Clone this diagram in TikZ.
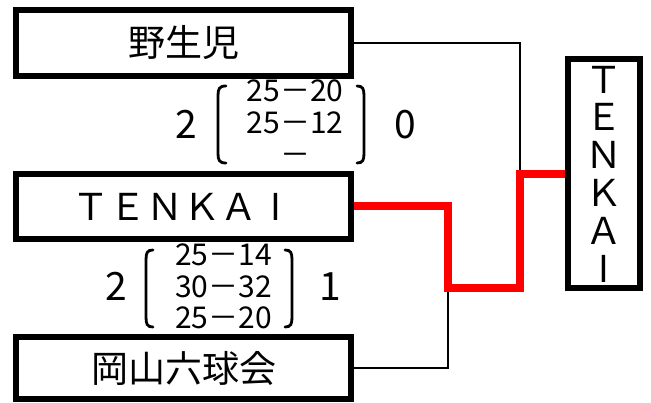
\documentclass[tikz,border=0pt]{standalone}
\usepackage{fontspec}
\setmainfont{Noto Sans CJK JP}
\usetikzlibrary{backgrounds}
\newcommand{\plainI}{\makebox[1em]{I}}
\begin{document}
\begin{tikzpicture}[x=1pt,y=-1pt,
  team/.style={draw, line width=6pt, minimum width=335pt, inner sep=0pt, outer sep=0pt, font=\fontsize{37}{40}\selectfont},
  thinline/.style={line width=2.5pt},
  winline/.style={red, line width=8pt},
  brk/.style={line width=2.8pt, line cap=round},
  big/.style={font=\fontsize{39}{40}\selectfont, inner sep=0pt, anchor=base},
  row/.style={font=\fontsize{30}{30}\selectfont, inner sep=0pt, anchor=base}]
\useasboundingbox (0,0) rectangle (651,403);

\node[team, minimum height=66pt] (b1) at (183.5,43) {野生児};
\node[team, minimum height=65pt] (b2) at (183.5,206.5) {ＴＥＮＫＡ\plainI};
\node[team, minimum height=62pt] (b3) at (183.5,368) {岡山六球会};
\node[team, minimum width=72pt, minimum height=229pt, align=center,
      font=\fontsize{37}{37.8}\selectfont] (w) at (604,174) {Ｔ\\Ｅ\\Ｎ\\Ｋ\\Ａ\\\plainI};

\coordinate (j1) at (520,174);
\coordinate (j2) at (448,288);

\begin{scope}[on background layer]
  \draw[thinline] (b1.east) -| (j1);
  \draw[thinline] (b3.east) -| (j2);
  \draw[winline] (w.west) -- (j1) |- (j2) |- (b2.east);
\end{scope}

% score 1
\node[big] (s1a) at (186,139) {2};
\node[big] (s1b) at (405,139) {0};
\node[row] (r11) at (295,102) {25－20};
\node[row] (r12) at (295,134) {25－12};
\node[row] (r13) at (295,166) {－};
\draw[brk] (226,86) .. controls (219,86) and (218,89) .. (218,96) -- (218,153) .. controls (218,160) and (219,163) .. (226,163);
\draw[brk] (357,86) .. controls (363,86) and (364,89) .. (364,96) -- (364,153) .. controls (364,160) and (363,163) .. (357,163);

% score 2
\node[big] (s2a) at (116,301) {2};
\node[big] (s2b) at (330,301) {1};
\node[row] (r21) at (223.5,266) {25－14};
\node[row] (r22) at (223.5,298) {30－32};
\node[row] (r23) at (223.5,329) {25－20};
\draw[brk] (153,250) .. controls (147,250) and (146,253) .. (146,260) -- (146,317) .. controls (146,324) and (147,327) .. (153,327);
\draw[brk] (285,250) .. controls (291,250) and (292,253) .. (292,260) -- (292,317) .. controls (292,324) and (291,327) .. (285,327);
\end{tikzpicture}
\end{document}
